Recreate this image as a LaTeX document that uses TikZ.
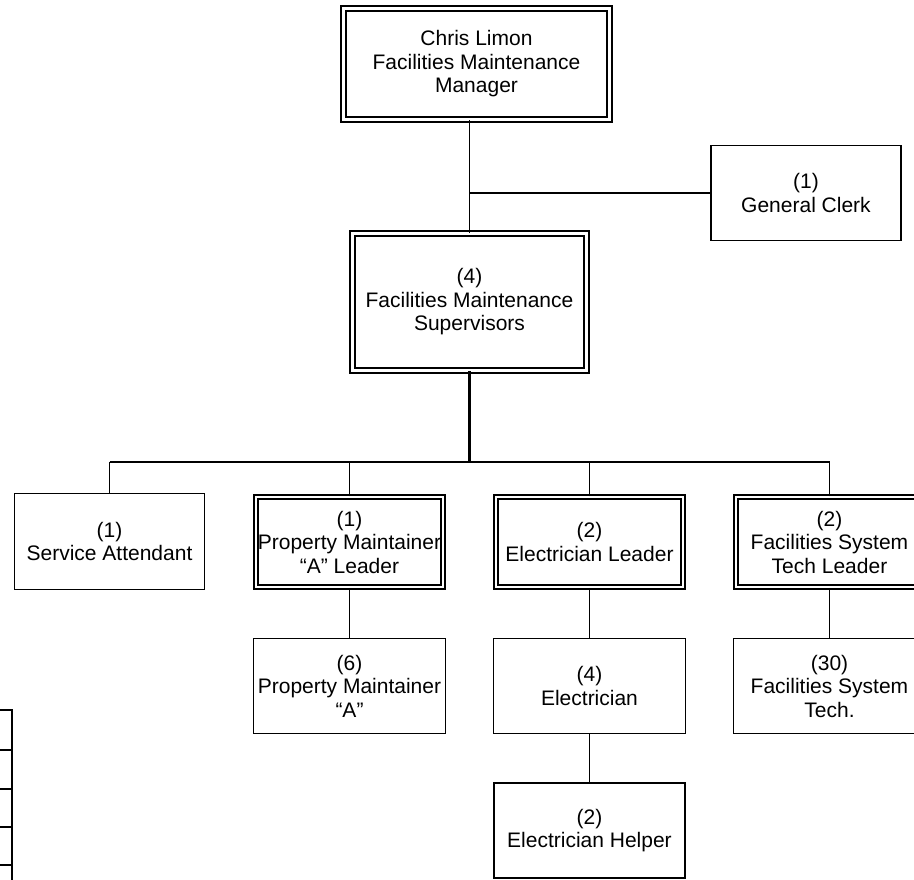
\documentclass[tikz,border=0pt]{standalone}
\usepackage{fontspec}
\setmainfont{Liberation Sans}
\begin{document}
\begin{tikzpicture}[x=1pt,y=-1pt,
 font=\fontsize{21}{23.5}\selectfont,
 box/.style={draw=black,line width=1.9pt,align=center,minimum width=190pt,minimum height=95pt,inner sep=2pt},
 dbox/.style={draw=black,double=white,line width=1.5pt,double distance=2.6pt,align=center,minimum width=187pt,minimum height=90pt,inner sep=2pt},
 link/.style={line width=1.6pt,draw=black},
 trunk/.style={line width=2.6pt,draw=black}]
\useasboundingbox (0,0) rectangle (914,880);
\node[dbox,line width=1.9pt,double distance=3pt,minimum width=266pt,minimum height=111pt] (mgr) at (476.5,64) {Chris Limon\\Facilities Maintenance\\Manager};
\node[box] (clerk) at (806,193) {(1)\\General Clerk};
\node[dbox,line width=1.9pt,double distance=3pt,minimum width=234pt,minimum height=137pt] (sup) at (469.5,302) {(4)\\Facilities Maintenance\\Supervisors};
\coordinate (bus) at (469.5,462);
% second row
\node[box,minimum height=96pt] (attend) at (109.5,541.5) {(1)\\Service Attendant};
\node[dbox] (pmlead) at (349.5,542) {(1)\\Property Maintainer\\“A” Leader};
\node[dbox] (ellead) at (589.5,542) {(2)\\Electrician Leader};
\node[dbox] (fstlead) at (829.5,542) {(2)\\Facilities System\\Tech Leader};
% third row
\node[box,minimum width=192pt] (pm) at (349.5,686) {(6)\\Property Maintainer\\“A”};
\node[box,minimum width=192pt] (elec) at (589.5,686) {(4)\\Electrician};
\node[box,minimum width=192pt] (fst) at (829.5,686) {(30)\\Facilities System\\Tech.};
\node[box,minimum width=191pt] (helper) at (589.5,830.5) {(2)\\Electrician Helper};
% connectors
\draw[link] (mgr.south -| sup.north) -- (sup.north);
\draw[link] (sup.north |- clerk.west) -- (clerk.west);
\draw[trunk] (sup.south) -- (bus);
\draw[link,line width=2pt] (attend.north |- bus) -- (fstlead.north |- bus);
\draw[link] (attend.north) -- (attend.north |- bus);
\draw[link] (pmlead.north) -- (pmlead.north |- bus);
\draw[link] (ellead.north) -- (ellead.north |- bus);
\draw[link] (fstlead.north) -- (fstlead.north |- bus);
\draw[link] (pmlead.south) -- (pm.north);
\draw[link] (ellead.south) -- (elec.north);
\draw[link] (fstlead.south) -- (fst.north);
\draw[link] (elec.south) -- (helper.north);
% clipped boxes at the left edge
\foreach \ya/\yb in {710/750,750/789,789/827,827/865,865/905}
 \draw[line width=2pt] (-60,\ya) rectangle (12,\yb);
\end{tikzpicture}
\end{document}
